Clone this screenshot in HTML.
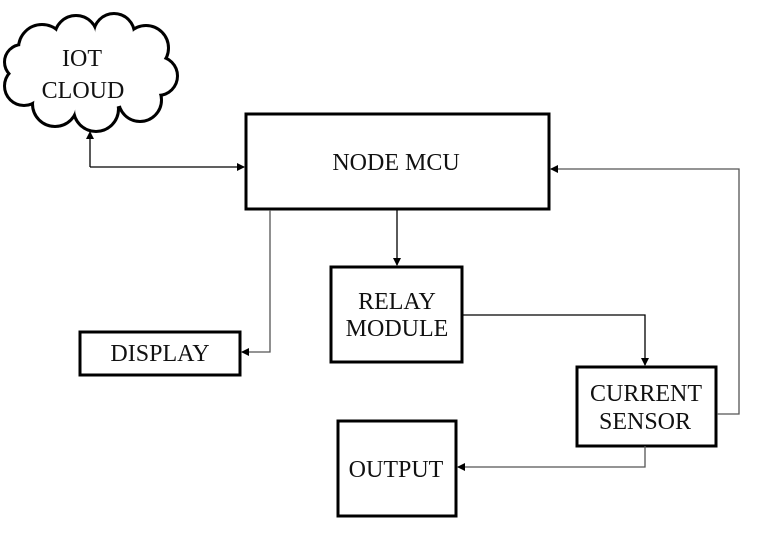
<!DOCTYPE html>
<html><head><style>
html,body{margin:0;padding:0;background:#fff;}
svg{display:block;}
text{font-family:"Liberation Serif",serif;font-size:24px;fill:#111;}
</style></head><body>
<svg width="765" height="535" viewBox="0 0 765 535" xmlns="http://www.w3.org/2000/svg">
<defs>
<marker id="a" markerWidth="8" markerHeight="8" refX="7" refY="4" orient="auto" markerUnits="userSpaceOnUse">
<path d="M0,0 L8,4 L0,8 z" fill="#000"/></marker>
</defs>
<g stroke="#000" stroke-width="6" fill="#000">
<circle cx="42" cy="48" r="22"/><circle cx="76" cy="37" r="20"/><circle cx="114" cy="34" r="19"/>
<circle cx="146" cy="48" r="21"/><circle cx="158" cy="76" r="18"/><circle cx="140" cy="100" r="20"/>
<circle cx="96" cy="109" r="21"/><circle cx="55" cy="104" r="21"/><circle cx="24" cy="86" r="18"/><circle cx="22" cy="62" r="16"/>
</g>
<g fill="#fff">
<circle cx="42" cy="48" r="22"/><circle cx="76" cy="37" r="20"/><circle cx="114" cy="34" r="19"/>
<circle cx="146" cy="48" r="21"/><circle cx="158" cy="76" r="18"/><circle cx="140" cy="100" r="20"/>
<circle cx="96" cy="109" r="21"/><circle cx="55" cy="104" r="21"/><circle cx="24" cy="86" r="18"/><circle cx="22" cy="62" r="16"/>
<ellipse cx="90" cy="72" rx="65" ry="38"/>
</g>
<text x="82" y="66" text-anchor="middle">IOT</text>
<text x="83" y="98" text-anchor="middle">CLOUD</text>
<g fill="#fff" stroke="#000" stroke-width="3">
<rect x="246" y="114" width="303" height="95"/>
<rect x="331" y="267" width="131" height="95"/>
<rect x="577" y="367" width="139" height="79"/>
<rect x="338" y="421" width="118" height="95"/>
<rect x="80" y="332" width="160" height="43"/>
</g>
<text x="396" y="170" text-anchor="middle">NODE MCU</text>
<text x="397" y="309" text-anchor="middle">RELAY</text>
<text x="397" y="336" text-anchor="middle">MODULE</text>
<text x="646" y="401" text-anchor="middle">CURRENT</text>
<text x="645" y="429" text-anchor="middle">SENSOR</text>
<text x="396" y="477" text-anchor="middle">OUTPUT</text>
<text x="160" y="361" text-anchor="middle">DISPLAY</text>
<g fill="none" stroke="#000" stroke-width="1.3">
<path d="M90,167 L90,132" marker-end="url(#a)"/>
<path d="M90,167 L244,167" marker-end="url(#a)"/>
<path d="M397,210 L397,265" marker-end="url(#a)"/>
<path d="M270,210 L270,352 L242,352" stroke="#555" marker-end="url(#a)"/>
<path d="M462,315 L645,315 L645,365" marker-end="url(#a)"/>
<path d="M717,414 L739,414 L739,169 L551,169" stroke="#555" marker-end="url(#a)"/>
<path d="M645,446 L645,467 L458,467" stroke="#555" marker-end="url(#a)"/>
</g>
</svg>
</body></html>
